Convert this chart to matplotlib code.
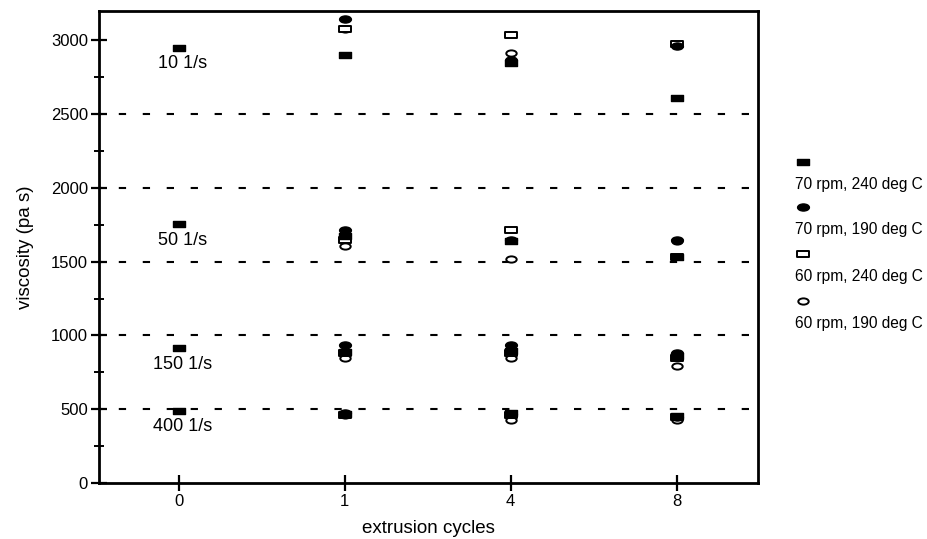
import numpy as np
import matplotlib
matplotlib.use("Agg")
import matplotlib.pyplot as plt
from matplotlib.path import Path
from matplotlib.lines import Line2D
from matplotlib.transforms import Affine2D
from matplotlib.ticker import MultipleLocator

plt.rcParams['font.family'] = ['Liberation Sans', 'DejaVu Sans']

# extrusion cycles (categorical x axis)
cycles = ["0", "1", "4", "8"]
# shear rates, one group of points per rate
shear_rates = ["10 1/s", "50 1/s", "150 1/s", "400 1/s"]
guide_levels = [2500, 2000, 1500, 1000, 500]

nan = np.nan
# viscosity (pa s) per shear rate (rows) and cycle (columns)
visc_70rpm_240 = [[2950, 2905, 2845, 2610],
                  [1755, 1675, 1640, 1530],
                  [912, 890, 895, 860],
                  [490, 465, 472, 455]]
visc_70rpm_190 = [[nan, 3145, 2870, 2960],
                  [nan, 1715, 1645, 1645],
                  [nan, 935, 935, 880],
                  [nan, 473, 465, 450]]
visc_60rpm_240 = [[nan, 3080, 3040, 2978],
                  [nan, 1645, 1713, 1530],
                  [nan, 880, 880, 850],
                  [nan, 462, 460, 445]]
visc_60rpm_190 = [[nan, 3075, 2915, 2970],
                  [nan, 1605, 1520, 1640],
                  [nan, 850, 845, 790],
                  [nan, 460, 427, 425]]

series_labels = ["70 rpm, 240 deg C", "70 rpm, 190 deg C",
                 "60 rpm, 240 deg C", "60 rpm, 190 deg C"]

# flat rectangle and flat ellipse marker shapes
rect_path = Path([(-1, -0.55), (1, -0.55), (1, 0.55), (-1, 0.55), (-1, -0.55)],
                 [Path.MOVETO, Path.LINETO, Path.LINETO, Path.LINETO, Path.CLOSEPOLY])
circ = Path.unit_circle()
ell_path = Path(Affine2D().scale(1.0, 0.6).transform(circ.vertices), circ.codes)

styles = [
    dict(marker=rect_path, mfc='black', mec='black', ms=8.5, mew=1.0, zorder=5),
    dict(marker=ell_path, mfc='black', mec='black', ms=8.5, mew=1.0, zorder=4),
    dict(marker=rect_path, mfc='white', mec='black', ms=8.5, mew=1.4, zorder=3),
    dict(marker=ell_path, mfc='white', mec='black', ms=7.5, mew=1.4, zorder=2),
]
series = [visc_70rpm_240, visc_70rpm_190, visc_60rpm_240, visc_60rpm_190]

fig = plt.figure(figsize=(9.27, 5.39), dpi=100)
ax = fig.add_axes([0.1068, 0.1039, 0.7109, 0.8757])

x = np.arange(len(cycles))
for data, st in zip(series, styles):
    for row in data:
        ax.plot(x, row, linestyle='none', **st)

for lvl in guide_levels:
    ax.axhline(lvl, color='black', lw=1.5, ls=(2, (3.5, 8)), zorder=1)

# shear-rate labels under the cycle-0 points
for rate, row in zip(shear_rates, visc_70rpm_240):
    ax.annotate(rate, xy=(0, row[0]), xytext=(3, -11.5), textcoords='offset points',
                ha='center', va='center', fontsize=13)

ax.set_xlim(-0.48, 3.49)
ax.set_ylim(0, 3200)
ax.set_xticks(x)
ax.set_xticklabels(cycles)
ax.yaxis.set_major_locator(MultipleLocator(500))
ax.yaxis.set_minor_locator(MultipleLocator(250))
ax.tick_params(axis='both', which='major', direction='inout', length=12, width=1.6,
               labelsize=12, pad=2)
ax.tick_params(axis='y', which='minor', direction='inout', length=7, width=1.4)
for s in ax.spines.values():
    s.set_linewidth(2)

ax.set_xlabel("extrusion cycles", fontsize=13.5, labelpad=8)
ax.set_ylabel("viscosity (pa s)", fontsize=13.5, labelpad=12)

# legend: marker above each label, right of the plot
leg_marker_y = [0.6994, 0.616, 0.5288, 0.4416]
leg_text_y = [0.6568, 0.5733, 0.4861, 0.4007]
for st, lab, my, ty in zip(styles, series_labels, leg_marker_y, leg_text_y):
    kw = {k: v for k, v in st.items() if k != 'zorder'}
    fig.add_artist(Line2D([0.866], [my], transform=fig.transFigure, linestyle='none', **kw))
    fig.text(0.858, ty, lab, ha='left', va='center', fontsize=11.2)

fig.savefig("out.png", dpi=100)
